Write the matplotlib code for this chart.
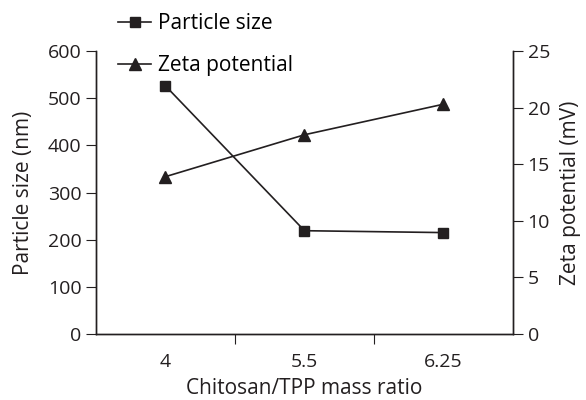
import numpy as np
import matplotlib.pyplot as plt
from matplotlib.lines import Line2D

plt.rcParams['font.family'] = ['Open Sans', 'DejaVu Sans']
plt.rcParams['font.size'] = 14

ratios = ["4", "5.5", "6.25"]
particle_size = [526, 219, 215]      # nm
zeta_potential = [13.9, 17.6, 20.3]  # mV

col = "#231f20"
x = np.arange(len(ratios))

fig = plt.figure(figsize=(5.86, 4.0), dpi=100)
ax = fig.add_axes([0.1638, 0.165, 0.7116, 0.7075])
ax2 = ax.twinx()

ax.plot(x, particle_size, color=col, lw=1.2, marker="s", ms=7.5)
ax2.plot(x, zeta_potential, color=col, lw=1.2, marker="^", ms=8)

ax.set_xlim(-0.5, 2.5)
ax.set_ylim(0, 600)
ax2.set_ylim(0, 25)
ax.set_yticks(range(0, 601, 100))
ax2.set_yticks(range(0, 26, 5))

# category labels between boundary ticks
ax.set_xticks([0.5, 1.5])
ax.set_xticklabels([])
ax.set_xticks(x, minor=True)
ax.set_xticklabels(ratios, minor=True)
ax.tick_params(axis="x", which="minor", length=0, pad=14, labelsize=14, colors=col)
ax.tick_params(axis="x", which="major", length=7, color=col)
ax.tick_params(axis="y", length=7, color=col, colors=col, labelsize=14)
ax2.tick_params(axis="y", length=7, color=col, colors=col, labelsize=14)

for a in (ax, ax2):
    a.spines["top"].set_visible(False)
    for s in ("left", "right", "bottom"):
        a.spines[s].set_color(col)
        a.spines[s].set_linewidth(1.0)

ax.set_xlabel("Chitosan/TPP mass ratio", color=col, fontsize=15, labelpad=5)
ax.set_ylabel("Particle size (nm)", color=col, fontsize=15, labelpad=10)
ax2.set_ylabel("Zeta potential (mV)", color=col, fontsize=15, labelpad=7)

handles = [
    Line2D([], [], color=col, lw=1.2, marker="s", ms=7.5),
    Line2D([], [], color=col, lw=1.2, marker="^", ms=8),
]
fig.legend(handles, ["Particle size", "Zeta potential"],
           loc="upper left", bbox_to_anchor=(0.182, 0.995),
           frameon=False, fontsize=15, handlelength=1.6, handletextpad=0.3,
           labelspacing=1.0, borderaxespad=0.15)

fig.savefig("out.png", dpi=100)
